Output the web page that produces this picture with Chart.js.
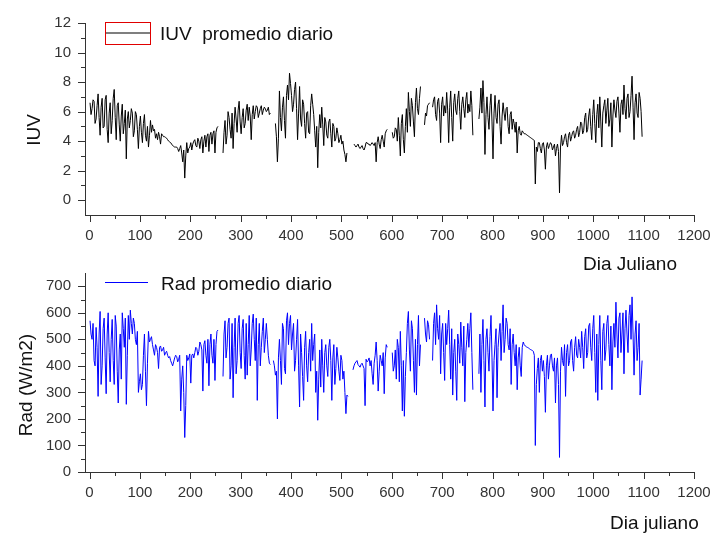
<!DOCTYPE html>
<html>
<head>
<meta charset="utf-8">
<script src="https://cdn.jsdelivr.net/npm/chart.js@4.4.1/dist/chart.umd.min.js"></script>
<style>
  body { margin: 0; background: #fff; }
  #wrap { position: relative; width: 727px; height: 535px; }
  canvas { position: absolute; left: 0; top: 0; }
</style>
</head>
<body>
<div id="wrap">
  <canvas id="chart-iuv" width="727" height="535"></canvas>
  <canvas id="chart-rad" width="727" height="535"></canvas>
</div>
<script>
// dia juliano: one value every DAY_STEP days, null = no data
const FIRST_DAY = 1;
const DAY_STEP = 2;

const iuv = [
  6.6, 5.8, 6.2, 6.8, 6.7, 5.2, 5.5, 6.4, 7.2, 5.6, 4.4, 6.3, 6.9, 4.9, 5.0, 6.8, 7.1, 4.8, 3.9, 5.9, 6.6, 4.5, 5.4, 6.9, 7.5,
  5.6, 4.1, 6.4, 6.6, 5.1, 4.0, 5.7, 6.5, 4.5, 5.2, 6.1, 2.8, 5.5, 6.0, 4.9, 5.4, 6.2, 5.9, 4.3, 4.7, 6.0, 5.8, 4.8, 3.5, 5.0,
  5.7, 4.6, 3.9, 5.2, 5.8, 4.4, 4.0, 5.0, 3.6, 4.4, 5.4, 4.6, 5.1, 4.7, 4.8, 4.2, 4.5, 4.1, 4.6, 4.3, 3.8, 4.5, 4.4, 4.3, 4.3,
  4.25, 4.2, 4.1, 4.0, 3.95, 3.9, 3.8, 3.7, 3.65, 3.6, 3.6, 3.6, 3.5, 3.3, 3.5, 3.7, 3.2, 2.6, 3.4, 1.5, 3.0, 3.9, 3.2, 3.5, 3.6,
  3.9, 3.4, 3.8, 4.0, 4.1, 3.7, 3.6, 4.2, 4.0, 3.5, 4.1, 4.3, 3.2, 4.0, 4.4, 3.6, 4.3, 4.5, 3.3, 4.4, 4.6, 3.8, 4.5, 4.7, 3.2,
  4.6, 4.9, 5.0, null, null, null, null, 3.2, 4.6, 5.4, 3.8, 4.4, 6.0, 5.6, 4.8, 4.2, 5.9, 3.5, 5.2, 6.3, 5.5, 4.6, 6.1, 6.7, 5.3,
  4.5, 5.6, 6.2, 4.9, 5.2, 6.1, 6.5, 5.4, 6.3, 5.7, 4.1, 5.8, 6.4, 5.5, 6.0, 6.4, 6.3, 5.6, 5.9, 6.2, 6.4, 5.8, 6.1, 6.3, 6.2,
  6.0, 6.1, 6.3, 5.8, 5.9, null, null, null, null, 5.2, 4.3, 2.6, 4.2, 7.4, 5.6, 4.7, 6.3, 7.0, 5.4, 4.2, 7.1, 7.8, 6.8, 8.6, 7.9,
  7.1, 6.0, 6.5, 7.5, 8.0, 6.2, 4.1, 5.9, 7.7, 5.5, 5.0, 6.8, 6.5, 5.2, 4.2, 5.9, 6.0, 4.6, 4.5, 6.4, 7.2, 6.5, 5.8, 4.7, 3.6,
  5.0, 2.2, 4.6, 5.8, 4.9, 6.3, 5.1, 3.7, 5.6, 5.3, 4.4, 4.2, 5.3, 5.5, 4.5, 3.6, 5.2, 5.0, 4.0, 4.2, 4.9, 4.5, 3.9, 4.1, 4.4,
  3.8, 4.0, 3.4, 3.1, 2.6, 3.2, null, null, null, null, null, null, 3.8, 3.7, 3.6, 3.7, 3.8, 3.6, 3.5, 3.6, 3.7, 3.5, 3.4, 3.6, 3.9,
  3.9, 3.8, 3.8, 3.7, 3.8, 3.9, 3.8, 3.7, 3.9, 2.6, 3.9, 4.3, 3.8, 3.5, 4.1, 4.4, 4.0, 3.6, 4.5, 4.7, 4.8, null, null, null, null,
  4.6, 4.2, 4.3, 4.9, 4.8, 4.0, 5.6, 4.4, 3.0, 5.2, 5.8, 4.1, 3.2, 5.0, 6.2, 4.6, 7.3, 6.0, 5.0, 6.9, 6.4, 5.3, 4.3, 6.6, 7.6,
  6.2, 5.8, 6.9, 7.7, null, null, null, 5.1, 5.9, 5.7, 6.4, 6.5, 6.6, null, null, 6.3, 6.8, 7.0, 5.8, 5.4, 6.7, 6.9, 5.9, 3.9, 6.5,
  7.0, 5.7, 6.4, 5.9, 7.3, 6.1, 3.9, 6.3, 7.4, 5.6, 4.0, 6.6, 7.2, 6.1, 5.8, 6.9, 7.4, 6.0, 4.8, 6.5, 7.0, 6.2, 5.6, 6.8, 7.3,
  5.9, 6.5, 6.0, 7.4, 6.4, 4.4, null, null, null, null, null, 5.5, 6.3, 7.6, 5.9, 8.1, 6.6, 3.1, 5.8, 7.0, 5.6, 4.8, 6.4, 7.2, 5.3,
  2.8, 5.9, 7.1, 5.6, 5.2, 6.5, 6.8, 5.0, 3.8, 5.7, 6.6, 5.9, 5.4, 6.2, 6.3, 5.0, 4.5, 5.8, 6.0, 4.8, 5.5, 5.2, 4.6, 5.3, 3.2,
  4.7, 5.0, 4.5, 4.4, 4.7, 4.6, 4.5, 4.5, 4.45, 4.4, 4.35, 4.3, 4.25, 4.2, 4.15, 4.1, 4.05, 1.1, 3.6, 3.3, 3.9, 3.9, 3.5, 3.2, 3.8,
  3.9, 3.4, 2.1, 3.6, 3.9, 3.5, 3.7, 3.9, 3.8, 3.4, 3.6, 3.8, 3.0, 3.5, 3.8, 3.3, 0.5, 3.6, 4.4, 3.7, 3.9, 4.3, 4.5, 3.9, 3.6,
  4.4, 4.6, 4.0, 4.3, 4.6, 4.7, 4.2, 4.4, 4.8, 5.0, 4.3, 4.6, 5.3, 5.2, 4.5, 4.7, 5.6, 5.9, 4.6, 4.8, 5.7, 6.2, 5.0, 4.1, 5.8,
  6.8, 5.2, 3.9, 5.8, 6.5, 4.9, 7.0, 5.3, 3.6, 5.9, 6.4, 6.8, 5.2, 6.1, 6.9, 5.0, 5.5, 6.6, 3.6, 5.7, 6.8, 6.1, 5.6, 6.7, 7.0,
  5.9, 4.6, 6.5, 6.8, 5.8, 7.8, 6.2, 5.5, 6.9, 7.2, 5.6, 6.0, 7.1, 8.4, 6.3, 4.1, 6.6, 7.2, 5.9, 5.6, 7.3, 6.9, 6.0, 4.3,
];

const rad = [
  570, 520, 500, 560, 420, 400, 545, 470, 285, 520, 605, 330, 400, 540, 580, 430, 295, 520, 600, 450, 340, 500, 575, 420, 330,
  590, 550, 380, 260, 460, 520, 350, 600, 540, 470, 580, 255, 440, 590, 500, 610, 560, 520, 580, 560, 500, 480, 530, 300, 340,
  370, 310, 330, 440, 520, 380, 250, 410, 530, 490, 500, 510, 480, 460, 440, 480, 470, 450, 390, 470, 475, 455, 460, 470, 440,
  450, 455, 440, 430, 435, 420, 410, 400, 415, 430, 440, 435, 415, 425, 440, 230, 350, 400, 300, 130, 250, 440, 420, 430, 445,
  335, 440, 445, 430, 450, 470, 465, 440, 455, 490, 480, 460, 305, 480, 495, 440, 410, 500, 325, 480, 520, 440, 410, 500, 345,
  480, 530, 535, null, null, null, null, 360, 520, 570, 430, 470, 560, 580, 350, 400, 560, 280, 470, 580, 370, 420, 560, 590, 450,
  390, 540, 575, 440, 350, 560, 365, 480, 590, 400, 460, 560, 595, 500, 420, 580, 270, 480, 560, 400, 470, 530, 580, 450, 500,
  560, 500, 440, 410, 405, null, null, 420, 400, 365, 380, 200, 430, 500, 420, 330, 560, 540, 390, 370, 570, 600, 480, 560, 590,
  460, 520, 560, 380, 420, 500, 575, 400, 245, 520, 450, 360, 270, 470, 530, 400, 340, 450, 500, 380, 560, 420, 480, 520, 300,
  380, 195, 350, 460, 320, 500, 400, 300, 450, 480, 400, 360, 470, 500, 420, 270, 430, 480, 330, 390, 470, 430, 380, 345, 440,
  420, 350, 380, 300, 220, 290, 285, null, null, null, null, 385, 400, 410, 415, 420, 405, 400, 395, 405, 410, 400, 390, 250, 425,
  415, 420, 430, 400, 420, 370, 330, 410, 440, 490, 420, 305, 380, 440, 420, 400, 450, 295, 430, 480, 470, null, null, null, null,
  450, 380, 400, 460, 350, 500, 470, 340, 530, 400, 230, 420, 210, 360, 450, 560, 605, 460, 380, 570, 540, 420, 300, 500, 290,
  480, 590, 400, 480, null, null, null, 580, 520, 490, 570, 555, 500, null, null, 420, 560, 600, 480, 630, 540, 500, 590, 370, 520,
  560, 450, 345, 560, 480, 540, 610, 480, 350, 540, 290, 450, 500, 380, 270, 520, 480, 410, 565, 470, 400, 550, 265, 450, 500,
  560, 470, 540, 600, 450, 310, null, null, null, null, null, 370, 520, 300, 480, 575, 420, 245, 500, 540, 450, 380, 510, 590, 430,
  230, 420, 480, 540, 280, 470, 520, 560, 420, 530, 630, 450, 500, 580, 560, 480, 460, 540, 330, 480, 520, 450, 400, 480, 310,
  430, 470, 400, 360, 470, 490, 480, 475, 472, 470, 468, 465, 462, 460, 458, 455, 440, 100, 330, 390, 430, 300, 420, 440, 380,
  420, 360, 225, 400, 440, 350, 400, 440, 445, 400, 380, 430, 260, 400, 430, 330, 55, 380, 470, 420, 400, 480, 285, 450, 480,
  400, 420, 490, 500, 420, 380, 470, 510, 440, 430, 500, 470, 430, 530, 470, 390, 510, 540, 430, 450, 550, 560, 470, 420, 540,
  590, 450, 300, 520, 270, 480, 590, 420, 310, 530, 560, 420, 460, 560, 590, 480, 400, 550, 310, 490, 560, 470, 640, 520, 430,
  580, 600, 450, 520, 600, 370, 540, 610, 520, 450, 590, 630, 500, 660, 520, 365, 520, 570, 420, 470, 560, 290, 350, 420,
];

const dayTicks = [0, 100, 200, 300, 400, 500, 600, 700, 800, 900, 1000, 1100, 1200];
const iuvTicks = [0, 2, 4, 6, 8, 10, 12];
const radTicks = [0, 100, 200, 300, 400, 500, 600, 700];

const days = iuv.map((_, i) => FIRST_DAY + i * DAY_STEP);

const FONT = "'Liberation Sans', Arial, sans-serif";
const AXIS = "#333";

// major + minor ticks (minor ones halfway between labels)
function withMinor(major) {
  const out = [];
  major.forEach((v, i) => {
    if (i > 0) out.push((major[i - 1] + v) / 2);
    out.push(v);
  });
  return out;
}

// tick marks drawn by hand so minor ones can be shorter
const tickMarks = {
  id: "tickMarks",
  afterDraw(chart) {
    const { ctx, chartArea, scales } = chart;
    ctx.save();
    ctx.strokeStyle = AXIS;
    ctx.lineWidth = 1;
    ctx.beginPath();
    scales.x.ticks.forEach((t) => {
      const x = Math.round(scales.x.getPixelForValue(t.value)) + 0.5;
      const len = t.label !== "" ? 7 : 4;
      ctx.moveTo(x, chartArea.bottom);
      ctx.lineTo(x, chartArea.bottom + len);
    });
    scales.y.ticks.forEach((t) => {
      const y = Math.round(scales.y.getPixelForValue(t.value)) + 0.5;
      const len = t.label !== "" ? 7 : 4;
      ctx.moveTo(chartArea.left, y);
      ctx.lineTo(chartArea.left - len, y);
    });
    ctx.stroke();
    ctx.restore();
  },
};

// titles and the little legend, as Origin draws them
function textLayer(items, legend) {
  return {
    id: "textLayer",
    afterDraw(chart) {
      const ctx = chart.ctx;
      ctx.save();
      ctx.fillStyle = "#111";
      ctx.font = "19px " + FONT;
      ctx.textBaseline = "alphabetic";
      items.forEach((it) => {
        ctx.save();
        ctx.translate(it.x, it.y);
        if (it.rotate) ctx.rotate(-Math.PI / 2);
        ctx.textAlign = it.align || "left";
        ctx.fillText(it.text, 0, 0);
        ctx.restore();
      });
      if (legend.box) {
        ctx.strokeStyle = "#e00000";
        ctx.lineWidth = 1;
        ctx.strokeRect(legend.box[0] + 0.5, legend.box[1] + 0.5, legend.box[2], legend.box[3]);
      }
      ctx.strokeStyle = legend.color;
      ctx.lineWidth = legend.width;
      ctx.beginPath();
      ctx.moveTo(legend.x1, legend.y);
      ctx.lineTo(legend.x2, legend.y);
      ctx.stroke();
      ctx.restore();
    },
  };
}

function buildChart(id, opts) {
  const canvas = document.getElementById(id);
  return new Chart(canvas.getContext("2d"), {
    type: "line",
    data: {
      datasets: [
        {
          label: opts.label,
          data: days.map((d, i) => ({ x: d, y: opts.values[i] })),
          borderColor: opts.color,
          borderWidth: 1,
          borderJoinStyle: "bevel",
          pointRadius: 0,
          spanGaps: false,
          tension: 0,
        },
      ],
    },
    options: {
      responsive: false,
      animation: false,
      events: [],
      layout: { padding: opts.padding },
      plugins: { legend: { display: false }, tooltip: { enabled: false } },
      scales: {
        x: {
          type: "linear",
          min: -9,
          max: 1200,
          afterBuildTicks: (s) => { s.ticks = withMinor(dayTicks).map((v) => ({ value: v })); },
          afterFit: (s) => { s.height = 30; },
          grid: { drawOnChartArea: false, drawTicks: false },
          border: { color: AXIS, width: 1 },
          ticks: {
            autoSkip: false,
            maxRotation: 0,
            padding: 12,
            color: AXIS,
            font: { family: FONT, size: 15 },
            callback: (v) => (dayTicks.includes(v) ? String(v) : ""),
          },
        },
        y: {
          min: opts.yMin,
          max: opts.yMax,
          afterBuildTicks: (s) => { s.ticks = withMinor(opts.yTicks).map((v) => ({ value: v })); },
          afterFit: (s) => { s.width = 85; },
          grid: { drawOnChartArea: false, drawTicks: false },
          border: { color: AXIS, width: 1 },
          ticks: {
            autoSkip: false,
            padding: 14,
            color: AXIS,
            font: { family: FONT, size: 15 },
            callback: (v) => (opts.yTicks.includes(v) ? String(v) : ""),
          },
        },
      },
    },
    plugins: [tickMarks, textLayer(opts.texts, opts.legend)],
  });
}

buildChart("chart-iuv", {
  label: "IUV  promedio diario",
  values: iuv,
  color: "#000000",
  yMin: -1,
  yMax: 12,
  yTicks: iuvTicks,
  padding: { top: 15, right: 33, bottom: 290, left: 0 },
  texts: [
    { text: "IUV", x: 40, y: 130, rotate: true, align: "center" },
    { text: "Dia Juliano", x: 583, y: 270 },
    { text: "IUV  promedio diario", x: 160, y: 40 },
  ],
  legend: { box: [105, 22, 45, 22], color: "#555", width: 1.5, x1: 106, x2: 150, y: 33 },
});

buildChart("chart-rad", {
  label: "Rad promedio diario",
  values: rad,
  color: "#0000ff",
  yMin: 0,
  yMax: 750,
  yTicks: radTicks,
  padding: { top: 273, right: 33, bottom: 33, left: 0 },
  texts: [
    { text: "Rad (W/m2)", x: 32, y: 385, rotate: true, align: "center" },
    { text: "Dia juliano", x: 610, y: 529 },
    { text: "Rad promedio diario", x: 161, y: 290 },
  ],
  legend: { color: "#0000ff", width: 1, x1: 105, x2: 148, y: 282.5 },
});
</script>
</body>
</html>
